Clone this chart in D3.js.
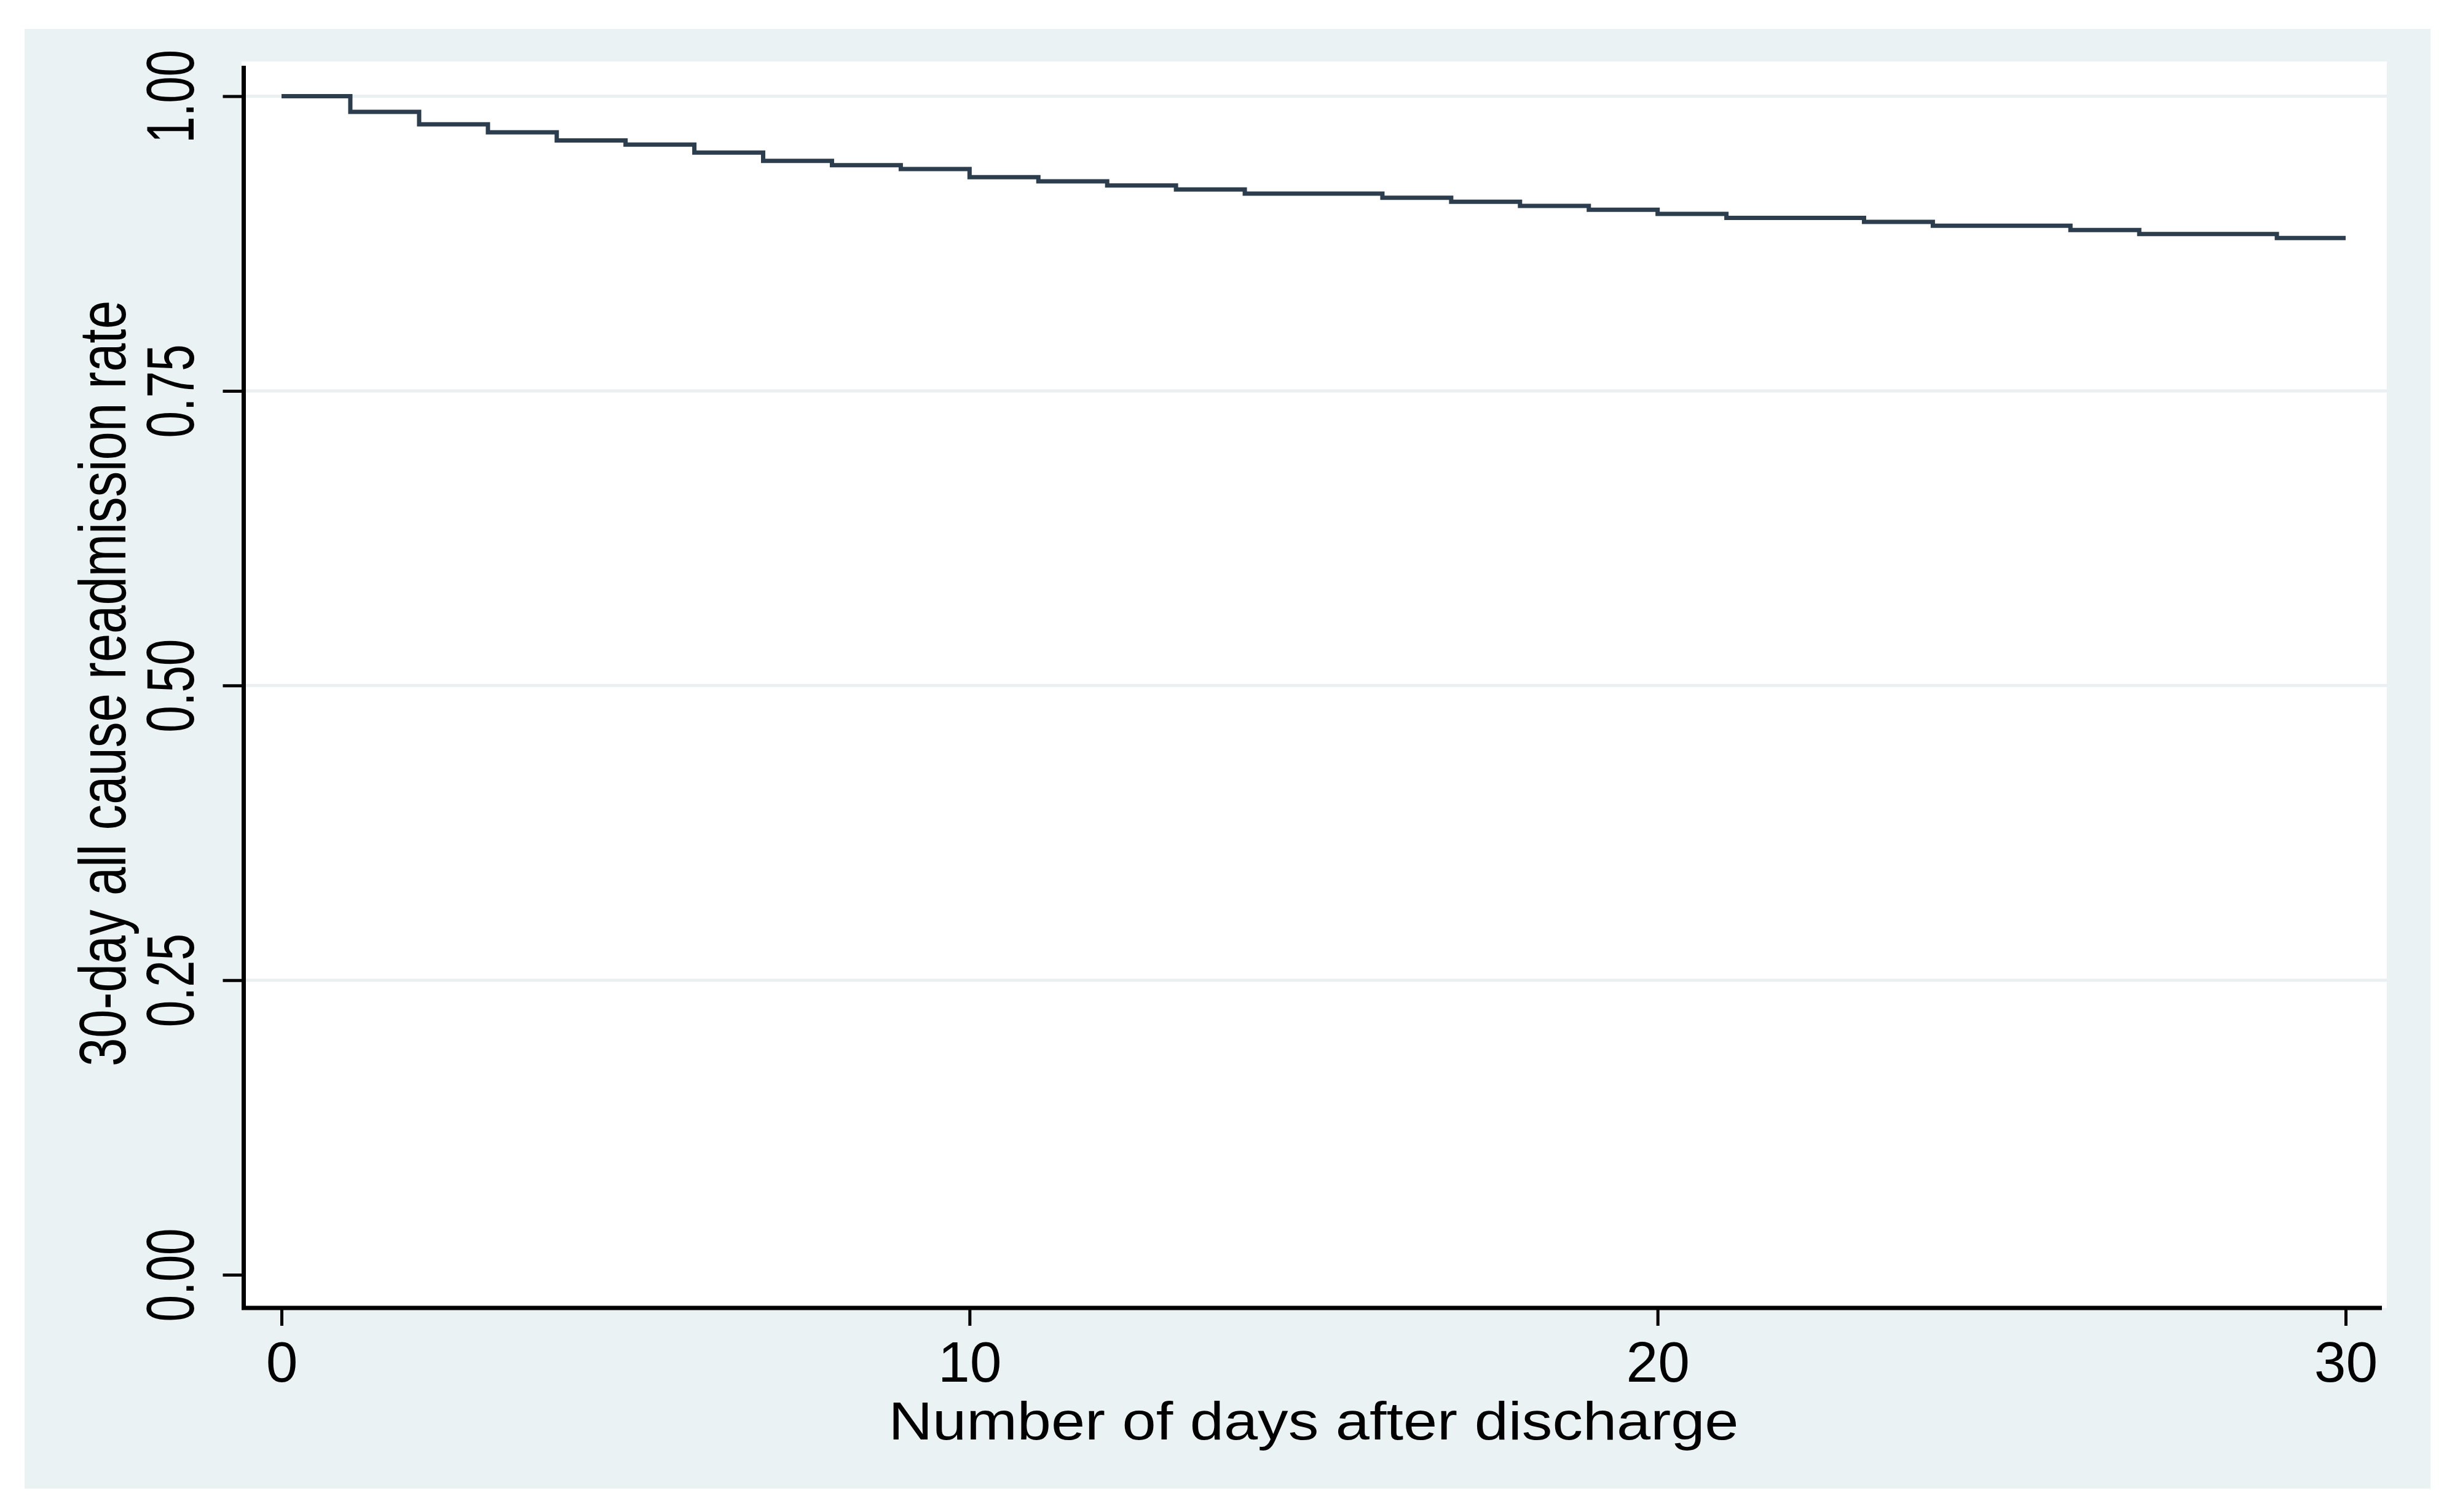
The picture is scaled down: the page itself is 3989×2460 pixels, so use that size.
<!DOCTYPE html>
<html>
<head>
<meta charset="utf-8">
<script src="https://cdn.jsdelivr.net/npm/d3@7"></script>
<style>
  html, body { margin: 0; padding: 0; background: #ffffff; }
  svg { display: block; }
  text { font-family: "Liberation Sans", Arial, "DejaVu Sans", sans-serif; fill: #000; }
</style>
</head>
<body>
<svg id="chart" width="3989" height="2460"></svg>
<script>
// ---- data ----
const days = [0,1,2,3,4,5,6,7,8,9,10,11,12,13,14,15,16,17,18,19,20,21,22,23,24,25,26,27,28,29,30];
const survival = [1.000,0.9867,0.9761,0.9693,0.9624,0.9589,0.9521,0.9451,0.9415,0.9382,0.9313,
                  0.9278,0.9243,0.9208,0.9173,0.9173,0.9138,0.9104,0.9069,0.9036,0.9001,
                  0.8968,0.8968,0.8933,0.8901,0.8901,0.8864,0.8831,0.8831,0.8796,0.8796];
const xTicks = [0,10,20,30];
const yTicks = [0,0.25,0.5,0.75,1];
const xTitle = "Number of days after discharge";
const yTitle = "30-day all cause readmission rate";

// ---- layout ----
const W = 3989, H = 2460;
const panel = {x0: 40, y0: 47, x1: 3954, y1: 2422};
const plot = {x0: 393, y0: 100, x1: 3883, y1: 2128};
const axisX = 396.5, axisY = 2128;

const svg = d3.select("#chart");
const x = d3.scaleLinear().domain([0, 30]).range([458, 3816]);
const y = d3.scaleLinear().domain([0, 1]).range([2074, 156.5]);

// backgrounds
svg.append("rect").attr("x",0).attr("y",0).attr("width",W).attr("height",H).attr("fill","#ffffff");
svg.append("rect").attr("x",panel.x0).attr("y",panel.y0)
   .attr("width",panel.x1-panel.x0).attr("height",panel.y1-panel.y0).attr("fill","#EAF2F3");
svg.append("rect").attr("x",plot.x0).attr("y",plot.y0)
   .attr("width",plot.x1-plot.x0).attr("height",plot.y1-plot.y0).attr("fill","#ffffff");

// gridlines
svg.append("g").selectAll("line").data(yTicks.filter(d => d > 0)).join("line")
   .attr("x1", axisX).attr("x2", plot.x1)
   .attr("y1", d => y(d)).attr("y2", d => y(d))
   .attr("stroke", "#EAF0F2").attr("stroke-width", 5);

// step line
const line = d3.line().x(d => x(d[0])).y(d => y(d[1])).curve(d3.curveStepAfter);
svg.append("path")
   .datum(days.map((d, i) => [d, survival[i]]))
   .attr("d", line)
   .attr("fill", "none")
   .attr("stroke", "#2c3d4d")
   .attr("stroke-width", 7);

// y axis
const gy = svg.append("g").attr("transform", `translate(${axisX},0)`)
   .call(d3.axisLeft(y).tickValues(yTicks).tickSize(34).tickFormat(d3.format(".2f")));
gy.select(".domain").remove();
gy.selectAll(".tick line").attr("stroke", "#000").attr("stroke-width", 5);
gy.selectAll(".tick text")
   .attr("x", 0).attr("y", -82).attr("dy", 0)
   .attr("transform", "rotate(-90)")
   .attr("text-anchor", "middle")
   .attr("font-size", 109)
   .attr("textLength", 152).attr("lengthAdjust", "spacingAndGlyphs");
svg.append("line").attr("x1", axisX).attr("x2", axisX).attr("y1", 107).attr("y2", 2131)
   .attr("stroke", "#000").attr("stroke-width", 7);

// x axis
const gx = svg.append("g").attr("transform", `translate(0,2131)`)
   .call(d3.axisBottom(x).tickValues(xTicks).tickSize(26).tickFormat(d3.format("d")));
gx.select(".domain").remove();
gx.selectAll(".tick line").attr("stroke", "#000").attr("stroke-width", 5);
gx.selectAll(".tick text")
   .attr("y", 117).attr("dy", 0)
   .attr("text-anchor", "middle")
   .attr("font-size", 93);
svg.append("line").attr("x1", 393).attr("x2", 3875).attr("y1", axisY).attr("y2", axisY)
   .attr("stroke", "#000").attr("stroke-width", 7);

// axis titles
svg.append("text")
   .attr("x", 2137).attr("y", 2342)
   .attr("text-anchor", "middle")
   .attr("font-size", 88)
   .attr("textLength", 1383).attr("lengthAdjust", "spacingAndGlyphs")
   .text(xTitle);

svg.append("text")
   .attr("transform", "translate(204,1112) rotate(-90)")
   .attr("text-anchor", "middle")
   .attr("font-size", 108)
   .attr("textLength", 1246).attr("lengthAdjust", "spacingAndGlyphs")
   .text(yTitle);
</script>
</body>
</html>
